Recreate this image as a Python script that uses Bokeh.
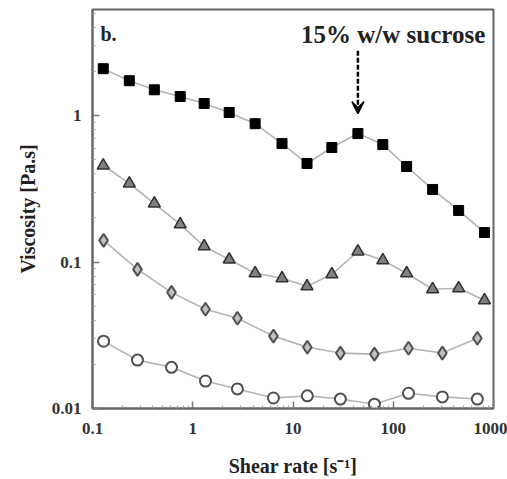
from bokeh.plotting import figure
from bokeh.models import FixedTicker, CustomJSTickFormatter, Label, Arrow, VeeHead
from bokeh.embed import file_html
from bokeh.resources import INLINE

# Shear rate values (s^-1)
shear_a = [0.128, 0.233, 0.414, 0.75, 1.30, 2.31, 4.19, 7.77, 13.8, 24.4, 44.4, 78.7, 136, 247, 449, 813]
shear_b = [0.129, 0.281, 0.614, 1.34, 2.79, 6.38, 13.9, 29.7, 64.9, 142, 309, 690]

# Viscosity values (Pa.s)
visc_squares = [2.09, 1.73, 1.50, 1.35, 1.21, 1.05, 0.88, 0.644, 0.471, 0.605, 0.754, 0.634, 0.449, 0.313, 0.225, 0.159]
visc_triangles = [0.456, 0.344, 0.251, 0.181, 0.128, 0.104, 0.0838, 0.0774, 0.0683, 0.0824, 0.118, 0.1027, 0.0838, 0.0652, 0.0662, 0.0548]
visc_diamonds = [0.1406, 0.0891, 0.0621, 0.0476, 0.0413, 0.0312, 0.0262, 0.0239, 0.0235, 0.0258, 0.0239, 0.0302]
visc_circles = [0.0288, 0.0214, 0.0191, 0.0154, 0.0136, 0.0118, 0.0122, 0.0116, 0.0107, 0.0127, 0.0120, 0.0116]

x_ticks = [0.1, 1, 10, 100, 1000]
y_ticks = [0.01, 0.1, 1]
x_minor = [m * 10.0 ** e for e in range(-1, 3) for m in range(2, 10)]
y_minor = [m * 10.0 ** e for e in range(-2, 1) for m in range(2, 10)]

panel_tag = "b."
title_text = "15% w/w sucrose"
arrow_x = 44.4
arrow_y0, arrow_y1 = 2.77, 1.03

FONT = "Liberation Serif"

p = figure(width=507, height=479, x_axis_type="log", y_axis_type="log",
           x_range=(0.1, 1000), y_range=(0.01, 5.3),
           output_backend="svg", toolbar_location=None,
           min_border_left=92, min_border_right=14, min_border_top=9, min_border_bottom=71)

p.background_fill_color = "white"
p.border_fill_color = "white"
p.outline_line_color = "#666666"
p.outline_line_width = 2
p.xgrid.visible = False
p.ygrid.visible = False

fmt = CustomJSTickFormatter(code="return String(Number(tick.toPrecision(3)));")

p.xaxis.ticker = FixedTicker(ticks=x_ticks, minor_ticks=x_minor)
p.yaxis.ticker = FixedTicker(ticks=y_ticks, minor_ticks=y_minor)
for ax in (p.xaxis, p.yaxis):
    ax.formatter = fmt
    ax.axis_line_color = "#666666"
    ax.axis_line_width = 2
    ax.major_tick_in = 7
    ax.major_tick_out = 0
    ax.minor_tick_in = 3
    ax.minor_tick_out = 0
    ax.major_tick_line_color = "#777777"
    ax.minor_tick_line_color = "#999999"
    ax.major_tick_line_width = 1.5
    ax.major_label_text_font = FONT
    ax.major_label_text_font_style = "bold"
    ax.major_label_text_font_size = "17px"
    ax.major_label_text_color = "#333333"
    ax.axis_label_text_font = FONT
    ax.axis_label_text_font_style = "bold"
    ax.axis_label_text_font_size = "20px"
    ax.axis_label_text_color = "#222222"

p.xaxis.axis_label = "Shear rate [s\u207b\u00b9]"
p.yaxis.axis_label = "Viscosity [Pa.s]"
p.xaxis.major_label_standoff = 14
p.yaxis.major_label_standoff = 11
p.xaxis.axis_label_standoff = 18
p.yaxis.axis_label_standoff = 10

line_col = "#b4b4b4"
p.line(shear_a, visc_squares, line_color=line_col, line_width=1.6)
p.line(shear_a, visc_triangles, line_color=line_col, line_width=1.6)
p.line(shear_b, visc_diamonds, line_color=line_col, line_width=1.6)
p.line(shear_b, visc_circles, line_color=line_col, line_width=1.6)

p.scatter(shear_a, visc_squares, marker="square", size=10, fill_color="black", line_color="black")
p.scatter(shear_a, visc_triangles, marker="triangle", size=12, fill_color="#808080",
          line_color="#303030", line_width=1.5)
p.scatter(shear_b, visc_diamonds, marker="diamond", size=13, fill_color="#c0c0c0",
          line_color="#505050", line_width=2)
p.scatter(shear_b, visc_circles, marker="circle", size=11, fill_color="white",
          line_color="#505050", line_width=2)

p.add_layout(Label(x=0.12, y=3.6, text=panel_tag, text_font=FONT, text_font_style="bold",
                   text_font_size="20px", text_color="#222222", text_baseline="alphabetic"))
p.add_layout(Label(x=828, y=3.6, text=title_text, text_font=FONT, text_font_style="bold",
                   text_font_size="25px", text_color="#222222", text_align="right",
                   text_baseline="alphabetic"))
p.add_layout(Arrow(end=VeeHead(size=12, fill_color="black", line_color="black", line_width=1.5),
                   x_start=arrow_x, y_start=arrow_y0, x_end=arrow_x, y_end=arrow_y1,
                   line_color="black", line_width=2.5, line_dash="5 2"))

open("out.html", "w").write(file_html(p, INLINE))
